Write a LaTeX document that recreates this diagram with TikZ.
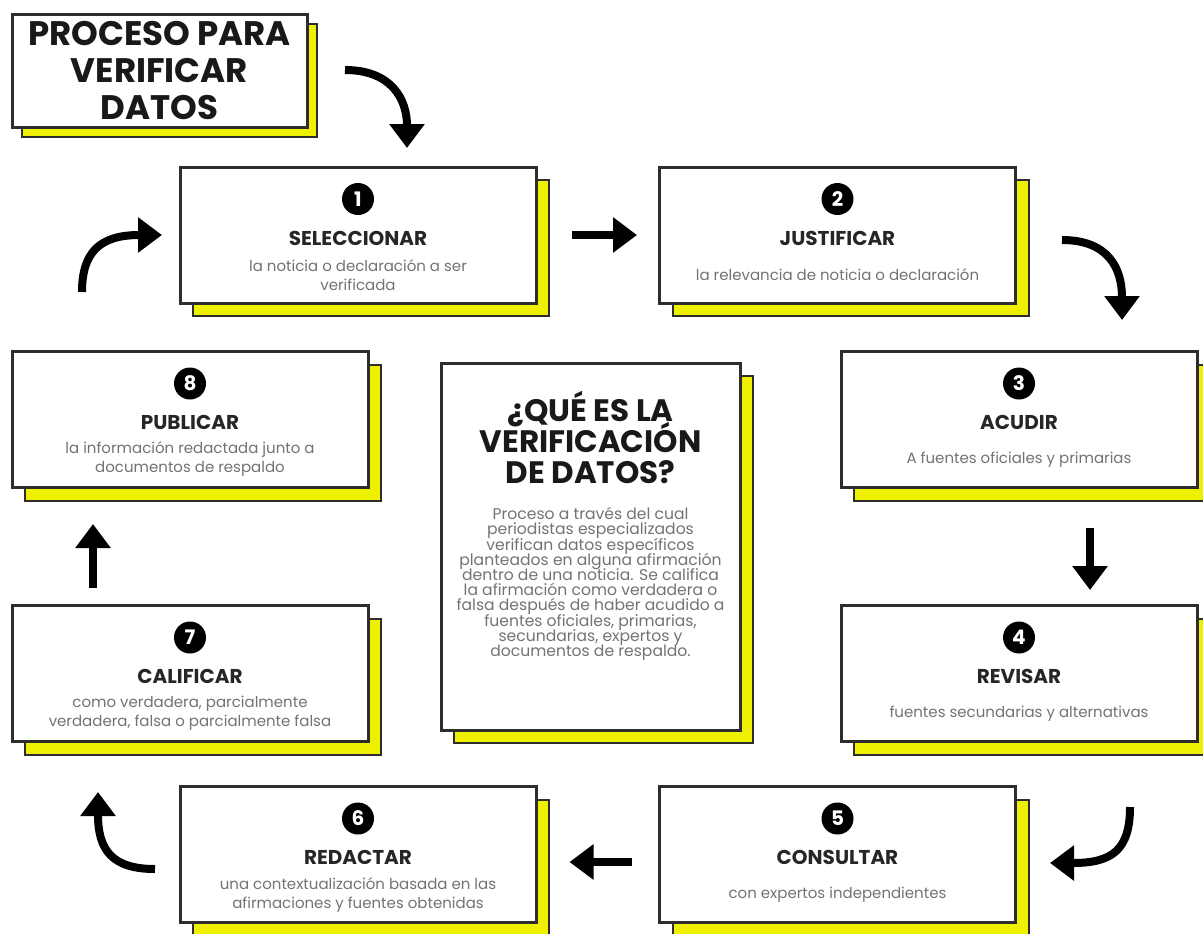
\documentclass[tikz,border=0pt]{standalone}
\usepackage{fontspec}
\setmainfont{Poppins}
\usetikzlibrary{arrows.meta,shadows,positioning}
\definecolor{shadowyellow}{RGB}{238,240,0}
\definecolor{framegray}{RGB}{45,45,45}
\newcommand\tightlines{\lineskiplimit=-20pt\relax}
\tikzset{
  card/.style={draw=framegray, line width=1.5pt, fill=white,
    copy shadow={shadow xshift=#1, shadow yshift=-#1, fill=shadowyellow,
      draw=framegray, line width=1pt}},
  card/.default=6.5pt,
  stepcard/.style={card, minimum width=178pt, minimum height=68pt},
  numdot/.style={circle, fill=black, text=white, inner sep=0pt,
    minimum size=16pt, font=\bfseries\fontsize{10}{10}\selectfont},
  steptitle/.style={font=\bfseries\fontsize{10}{10}\selectfont, text=black!85},
  stepdesc/.style={font=\fontsize{7.5}{9.5}\selectfont, text=black!55, align=center},
  flow/.style={line width=4pt, -{Triangle[width=17pt,length=12pt]}},
}
\begin{document}
\begin{tikzpicture}[x=0.5pt, y=-0.5pt]
  \useasboundingbox (0,0) rectangle (1203,933);

  % Title card
  \node[card=5pt, minimum width=147.5pt, minimum height=56.5pt, align=center,
    font=\bfseries\fontsize{17}{18.5}\selectfont, text=black!90]
    (head) at (159.5,70.5) {PROCESO PARA\\VERIFICAR\\DATOS};

  % The eight steps
  \foreach \n/\x/\y/\ttl/\dsc in {
    1/358/235/SELECCIONAR/{la noticia o declaración a ser\\verificada},
    2/837.5/235/JUSTIFICAR/{la relevancia de noticia o declaración},
    3/1019/419.5/ACUDIR/{A fuentes oficiales y primarias},
    4/1019/673.5/REVISAR/{fuentes secundarias y alternativas},
    5/837.5/854.5/CONSULTAR/{con expertos independientes},
    6/358/854.5/REDACTAR/{una contextualización basada en las\\afirmaciones y fuentes obtenidas},
    7/190/673.5/CALIFICAR/{como verdadera, parcialmente\\verdadera, falsa o parcialmente falsa},
    8/190/419.5/PUBLICAR/{la información redactada junto a\\documentos de respaldo}} {
    \node[stepcard] (b\n) at (\x,\y) {};
    \node[numdot] (n\n) at ([yshift=18pt]b\n.center) {\n};
    \node[steptitle] (t\n) at ([yshift=-1.5pt]b\n.center) {\ttl};
    \node[stepdesc] (d\n) at ([yshift=-20pt]b\n.center) {\dsc};
  }

  % Centre card
  \node[card, minimum width=149.5pt, minimum height=183.5pt] (what) at (590.5,546.5) {};
  \node[font=\bfseries\fontsize{15.5}{15.5}\selectfont\tightlines,
    align=center, text=black!90]
    (whattitle) at (590.5,437) {¿QUÉ ES LA\\VERIFICACIÓN\\DE DATOS?};
  \node[font=\fontsize{7.8}{7.6}\selectfont\tightlines, align=center, text=black!55]
    (whatbody) at (590.5,584) {Proceso a través del cual\\periodistas especializados\\
      verifican datos específicos\\planteados en alguna afirmación\\
      dentro de una noticia. Se califica\\la afirmación como verdadera o\\
      falsa después de haber acudido a\\fuentes oficiales, primarias,\\
      secundarias, expertos y\\documentos de respaldo.};

  % Free ends of the curved arrows
  \coordinate (a0s) at (345,70);   \coordinate (a0e) at (407,148);
  \coordinate (a23s) at (1062,240); \coordinate (a23e) at (1122,320);
  \coordinate (a45s) at (1130,807); \coordinate (a45e) at (1050,863);
  \coordinate (a67s) at (155,869);  \coordinate (a67e) at (98,792);
  \coordinate (a81s) at (82,292);   \coordinate (a81e) at (162,235);

  % Curved arrows
  \draw[flow] (a0s) .. controls (392,70) and (407,100) .. (a0e);
  \draw[flow] (a23s) .. controls (1108,240) and (1122,268) .. (a23e);
  \draw[flow] (a45s) .. controls (1130,850) and (1112,863) .. (a45e);
  \draw[flow] (a67s) .. controls (112,869) and (98,850) .. (a67e);
  \draw[flow] (a81s) .. controls (82,252) and (100,235) .. (a81e);

  % Straight arrows
  \draw[flow] ([xshift=17pt]b1.east) -- ([xshift=-10.5pt]b2.west);
  \draw[flow] ([xshift=35.5pt,yshift=-19.5pt]b3.south) -- ([xshift=35.5pt,yshift=7pt]b4.north);
  \draw[flow] ([xshift=-13pt,yshift=-3.75pt]b5.west) -- ([xshift=16pt,yshift=-3.75pt]b6.east);
  \draw[flow] ([xshift=-48.5pt,yshift=8pt]b7.north) -- ([xshift=-48.5pt,yshift=-17.5pt]b8.south);
\end{tikzpicture}
\end{document}
